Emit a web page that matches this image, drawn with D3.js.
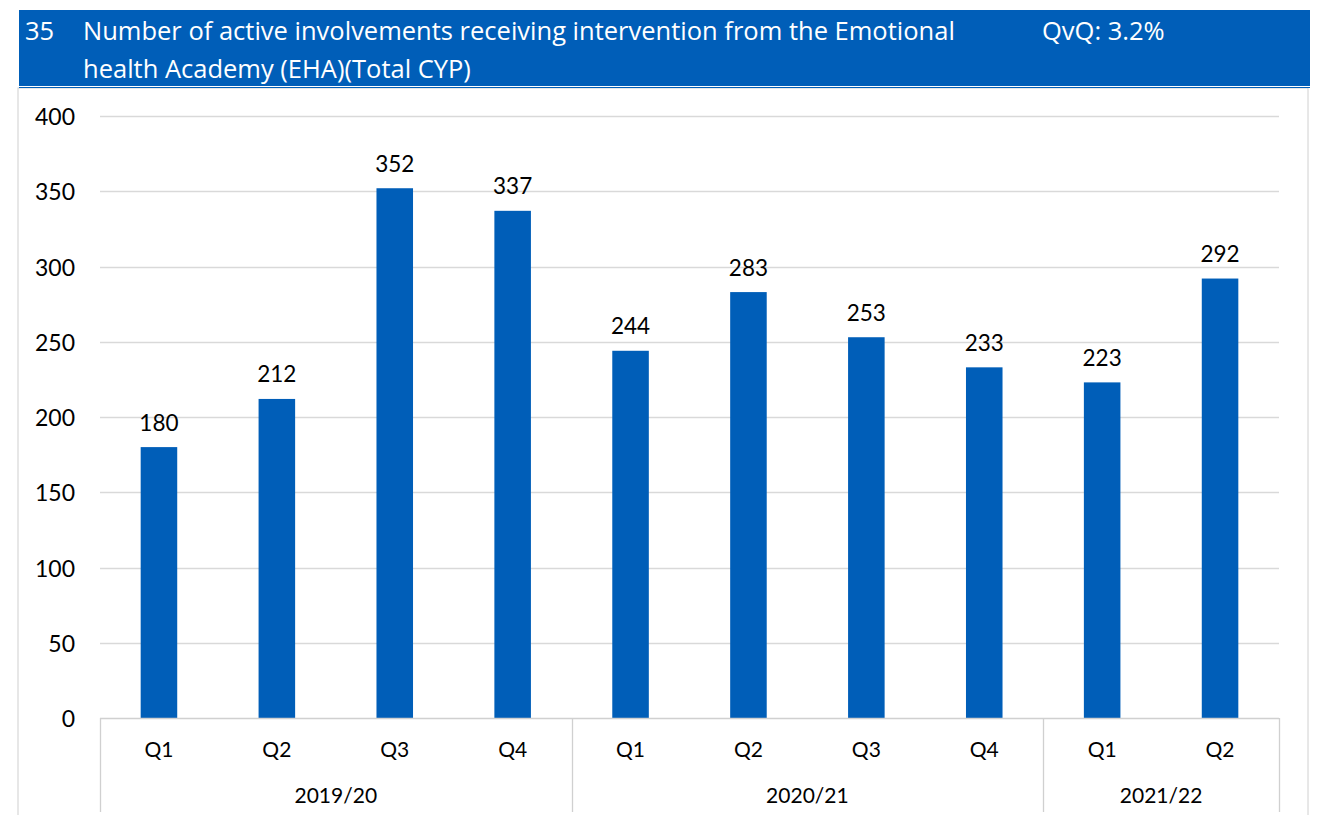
<!DOCTYPE html>
<html>
<head>
<meta charset="utf-8">
<script src="https://cdn.jsdelivr.net/npm/d3@7"></script>
<style>
  body { margin: 0; background: #fff; }
  text { font-family: Lato, "Open Sans", sans-serif; }
  text.head { font-family: "Open Sans", sans-serif; font-size: 25.5px; fill: #fff; }
</style>
</head>
<body>
<div id="chart"></div>
<script>
// data
const years = ["2019/20", "2020/21", "2021/22"];
const quarters = ["Q1", "Q2", "Q3", "Q4", "Q1", "Q2", "Q3", "Q4", "Q1", "Q2"];
const quarterYears = ["2019/20", "2019/20", "2019/20", "2019/20", "2020/21", "2020/21", "2020/21", "2020/21", "2021/22", "2021/22"];
const values = [180, 212, 352, 337, 244, 283, 253, 233, 223, 292];
const yTicks = [0, 50, 100, 150, 200, 250, 300, 350, 400];

const width = 1319, height = 815;
const blue = "#005EB8";
const plot = { left: 100, right: 1279, top: 116, bottom: 718 };

const svg = d3.select("#chart").append("svg")
  .attr("width", width).attr("height", height);

// header band
svg.append("rect").attr("x", 19).attr("y", 10).attr("width", 1291).attr("height", 76).attr("fill", blue);
svg.append("rect").attr("x", 18).attr("y", 88).attr("width", 1290).attr("height", 740)
  .attr("fill", "none").attr("stroke", "#d0d0d0").attr("stroke-width", 1);
svg.append("line").attr("x1", 19).attr("x2", 1310).attr("y1", 87.5).attr("y2", 87.5)
  .attr("stroke", blue).attr("stroke-width", 1);

const head = svg.append("g");
head.append("text").attr("class", "head").attr("x", 25).attr("y", 40).text("35");
head.append("text").attr("class", "head").attr("x", 83).attr("y", 40).text("Number of active involvements receiving intervention from the Emotional");
head.append("text").attr("class", "head").attr("x", 83).attr("y", 78).text("health Academy (EHA)(Total CYP)");
head.append("text").attr("class", "head").attr("x", 1042).attr("y", 40).text("QvQ: 3.2%");

// scales
const idx = d3.range(values.length);
const x = d3.scaleBand().domain(idx).range([plot.left, plot.right]).paddingInner(0.69).paddingOuter(0.345);
const y = d3.scaleLinear().domain([0, 400]).range([plot.bottom, plot.top]);

// gridlines
svg.append("g").selectAll("line").data(yTicks.slice(1)).join("line")
  .attr("x1", plot.left).attr("x2", plot.right)
  .attr("y1", d => Math.round(y(d)) + 0.5).attr("y2", d => Math.round(y(d)) + 0.5)
  .attr("stroke", "#d9d9d9").attr("stroke-width", 1.3);

// y labels
svg.append("g").selectAll("text").data(yTicks).join("text")
  .attr("x", 75).attr("y", d => y(d) + 9).attr("text-anchor", "end")
  .style("font-size", "23px").attr("fill", "#000").text(d => d);

// bars
svg.append("g").selectAll("rect").data(values).join("rect")
  .attr("x", (d, i) => x(i)).attr("width", x.bandwidth())
  .attr("y", d => y(d)).attr("height", d => y(0) - y(d))
  .attr("fill", blue);

// value labels
svg.append("g").selectAll("text").data(values).join("text")
  .attr("x", (d, i) => x(i) + x.bandwidth() / 2).attr("y", d => y(d) - 16.5)
  .attr("text-anchor", "middle").style("font-size", "22.5px").text(d => d);

// x axis (multi-level)
const step = x.step();
const axis = svg.append("g");
axis.append("line").attr("x1", plot.left).attr("x2", plot.right)
  .attr("y1", plot.bottom + 0.5).attr("y2", plot.bottom + 0.5).attr("stroke", "#d0d0d0").attr("stroke-width", 1.3);

const groupBounds = years.map(yr => {
  const ids = idx.filter(i => quarterYears[i] === yr);
  return { yr, start: plot.left + d3.min(ids) * step, end: plot.left + (d3.max(ids) + 1) * step };
});
const edges = [plot.left].concat(groupBounds.map(g => g.end));
axis.selectAll("line.sep").data(edges).join("line").attr("class", "sep")
  .attr("x1", d => Math.round(d) + 0.5).attr("x2", d => Math.round(d) + 0.5)
  .attr("y1", plot.bottom).attr("y2", 812)
  .attr("stroke", "#d0d0d0").attr("stroke-width", 1.3);

axis.selectAll("text.q").data(quarters).join("text").attr("class", "q")
  .attr("x", (d, i) => x(i) + x.bandwidth() / 2).attr("y", 757)
  .attr("text-anchor", "middle").style("font-size", "21px").text(d => d);

axis.selectAll("text.yr").data(groupBounds).join("text").attr("class", "yr")
  .attr("x", d => (d.start + d.end) / 2).attr("y", 803)
  .attr("text-anchor", "middle").style("font-size", "21px").text(d => d.yr);
</script>
</body>
</html>
